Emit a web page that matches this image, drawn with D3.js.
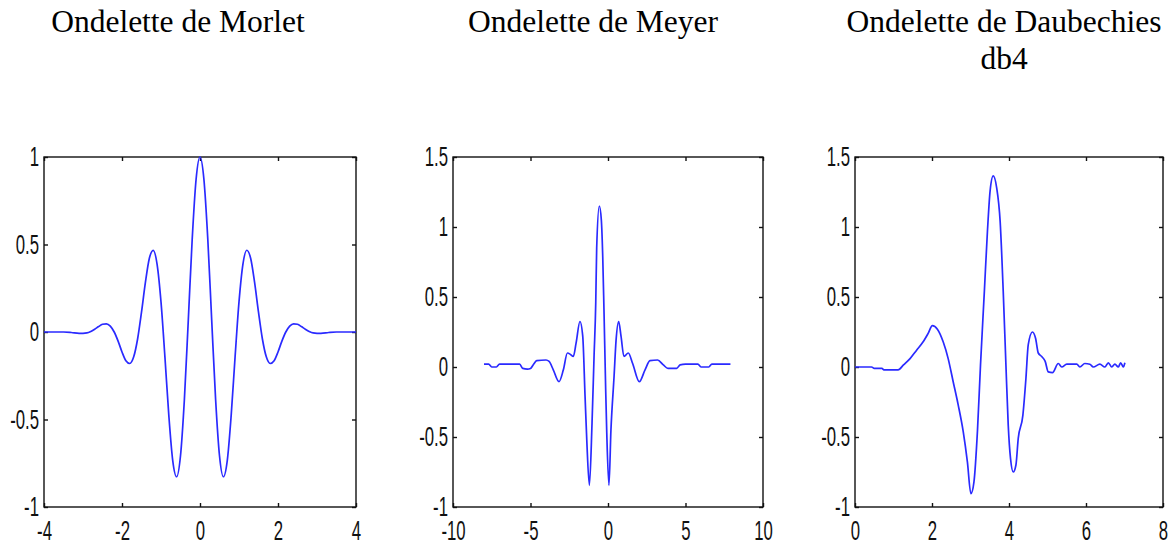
<!DOCTYPE html>
<html>
<head>
<meta charset="utf-8">
<script src="https://cdn.jsdelivr.net/npm/d3@7"></script>
<style>
  html, body { margin: 0; padding: 0; background: #fff; }
  svg { display: block; }
</style>
</head>
<body>
<svg id="chart" width="1174" height="545"></svg>
<script>
// ---------------- DATA ----------------
const titles = [["Ondelette de Morlet"], ["Ondelette de Meyer"], ["Ondelette de Daubechies", "db4"]];

const morletX = [-4, -3.5, -3.3, -3.1, -2.9, -2.8, -2.7, -2.6, -2.5, -2.4, -2.3, -2.2, -2.1, -2.0, -1.9, -1.8, -1.7, -1.6, -1.5, -1.4, -1.3, -1.2, -1.1, -1.0, -0.9, -0.8, -0.7, -0.6, -0.5, -0.4, -0.3, -0.2, -0.1, 0,
                 0.1, 0.2, 0.3, 0.4, 0.5, 0.6, 0.7, 0.8, 0.9, 1.0, 1.1, 1.2, 1.3, 1.4, 1.5, 1.6, 1.7, 1.8, 1.9, 2.0, 2.1, 2.2, 2.3, 2.4, 2.5, 2.6, 2.7, 2.8, 2.9, 3.1, 3.3, 3.5, 4];
const morletY = [0, 0, -0.003, -0.008, -0.005, 0.003, 0.016, 0.031, 0.044, 0.047, 0.034, 0.0, -0.052, -0.114, -0.164, -0.18, -0.142, -0.04, 0.113, 0.283, 0.42, 0.467, 0.387, 0.172, -0.141, -0.475, -0.733, -0.827, -0.707, -0.384, 0.068, 0.53, 0.873, 1.0,
                 0.873, 0.53, 0.068, -0.384, -0.707, -0.827, -0.733, -0.475, -0.141, 0.172, 0.387, 0.467, 0.42, 0.283, 0.113, -0.04, -0.142, -0.18, -0.164, -0.114, -0.052, 0.0, 0.034, 0.047, 0.044, 0.031, 0.016, 0.003, -0.005, -0.008, -0.003, 0, 0];

const meyerX = [-8.0, -7.7, -7.5, -7.2, -7.0, -6.0, -5.7, -5.5, -5.2, -5.0, -4.8, -4.6, -4.0, -3.8, -3.53, -3.16, -2.88, -2.62, -2.42, -2.24, -2.06, -1.81, -1.63, -1.48, -1.37, -1.2, -1.03, -0.9, -0.79, -0.73, -0.56, -0.43, -0.34, -0.26, -0.15, -0.08, 0.06, 0.19, 0.39, 0.52, 0.69, 0.84, 1.03, 1.31, 1.59, 2.02, 2.39, 2.71, 3.2, 3.57, 3.87, 4.43, 4.65, 5.0, 5.8, 6.0, 6.5, 6.7, 7.9];
const meyerY = [0.02, 0.02, 0.0, 0.0, 0.02, 0.02, 0.02, -0.01, -0.015, -0.01, 0.02, 0.045, 0.05, 0.04, -0.02, -0.105, -0.02, 0.10, 0.09, 0.075, 0.17, 0.325, 0.22, -0.21, -0.52, -0.845, -0.40, 0.075, 0.46, 0.85, 1.15, 1.05, 0.79, 0.41, -0.16, -0.47, -0.845, -0.45, -0.07, 0.19, 0.325, 0.22, 0.075, 0.10, 0.025, -0.105, -0.02, 0.045, 0.05, 0.015, -0.01, -0.01, 0.015, 0.02, 0.02, 0.0, 0.0, 0.02, 0.02];

const db4X = [0, 0.43, 0.5, 0.7, 0.75, 1.12, 1.26, 1.43, 1.6, 1.77, 1.9, 2.01, 2.14, 2.29, 2.42, 2.55, 2.68, 2.81, 2.92, 3.01, 3.09, 3.18, 3.26, 3.36, 3.44, 3.51, 3.59, 3.68, 3.77, 3.85, 3.92, 3.98, 4.04, 4.11, 4.18, 4.24, 4.36, 4.44, 4.5, 4.61, 4.69, 4.76, 4.85, 4.94, 5.02, 5.13, 5.28, 5.37, 5.5, 5.76, 5.84, 5.97, 6.1, 6.19, 6.36, 6.49, 6.58, 6.67, 6.75, 6.84, 6.9, 6.97, 7.01];
const db4Y = [0, 0, -0.01, -0.01, -0.02, -0.02, 0.015, 0.06, 0.12, 0.18, 0.24, 0.295, 0.27, 0.18, 0.06, -0.105, -0.27, -0.46, -0.68, -0.905, -0.82, -0.46, 0.015, 0.54, 0.97, 1.26, 1.365, 1.28, 1.04, 0.54, 0.015, -0.415, -0.655, -0.75, -0.70, -0.51, -0.345, -0.08, 0.16, 0.25, 0.205, 0.10, 0.075, 0.04, -0.035, -0.04, 0.025, 0.0, 0.02, 0.02, 0.0, 0.025, 0.02, 0.0, 0.02, 0.0, 0.03, 0.0, 0.02, 0.0, 0.03, 0.0, 0.03];

const morletXTicks = [-4, -2, 0, 2, 4];
const morletYTicks = [-1, -0.5, 0, 0.5, 1];
const meyerXTicks = [-10, -5, 0, 5, 10];
const meyerYTicks = [-1, -0.5, 0, 0.5, 1, 1.5];
const db4XTicks = [0, 2, 4, 6, 8];
const db4YTicks = [-1, -0.5, 0, 0.5, 1, 1.5];

// ---------------- LAYOUT ----------------
const panels = [
  { xs: morletX, ys: morletY, xd: [-4, 4], yd: [-1, 1], xt: morletXTicks, yt: morletYTicks, left: 44, right: 356, titleX: 178 },
  { xs: meyerX, ys: meyerY, xd: [-10, 10], yd: [-1, 1.5], xt: meyerXTicks, yt: meyerYTicks, left: 453, right: 763, titleX: 593 },
  { xs: db4X, ys: db4Y, xd: [0, 8], yd: [-1, 1.5], xt: db4XTicks, yt: db4YTicks, left: 855, right: 1163, titleX: 1004 }
];
const plotTop = 157, plotBottom = 507;
const labelScaleX = 0.62;   // condensed tick-label look
const leftPad = 5, bottomPad = 14;

const svg = d3.select("#chart");
const tickFont = "'Liberation Sans', Arial, sans-serif";

panels.forEach((p, i) => {
  const t = svg.append("text")
    .attr("x", p.titleX).attr("y", 32)
    .attr("text-anchor", "middle")
    .style("font-family", "'Liberation Serif', 'Times New Roman', serif")
    .style("font-size", "31.5px")
    .style("fill", "#000");
  titles[i].forEach((line, k) => {
    t.append("tspan").attr("x", p.titleX).attr("dy", k === 0 ? 0 : 36.5).text(line);
  });

  const x = d3.scaleLinear().domain(p.xd).range([p.left, p.right]);
  const y = d3.scaleLinear().domain(p.yd).range([plotBottom, plotTop]);
  const fmt = d => String(d);

  const g = svg.append("g");

  g.append("rect")
    .attr("x", p.left).attr("y", plotTop)
    .attr("width", p.right - p.left).attr("height", plotBottom - plotTop)
    .attr("fill", "none").attr("stroke", "#111").attr("stroke-width", 1.4);

  const styleAxis = sel => {
    sel.select(".domain").remove();
    sel.selectAll(".tick line").attr("stroke", "#111").attr("stroke-width", 1.4);
    sel.selectAll(".tick text")
      .style("font-family", tickFont)
      .style("font-size", "27px")
      .attr("fill", "#111");
  };

  g.append("g").attr("transform", `translate(0,${plotBottom})`)
    .call(d3.axisBottom(x).tickValues(p.xt).tickFormat(fmt).tickSizeInner(-4).tickSizeOuter(0).tickPadding(bottomPad))
    .call(styleAxis)
    .call(s => s.selectAll(".tick text").attr("transform", `scale(${labelScaleX},1)`));
  g.append("g").attr("transform", `translate(0,${plotTop})`)
    .call(d3.axisTop(x).tickValues(p.xt).tickFormat("").tickSizeInner(-4).tickSizeOuter(0))
    .call(styleAxis);
  g.append("g").attr("transform", `translate(${p.left},0)`)
    .call(d3.axisLeft(y).tickValues(p.yt).tickFormat(fmt).tickSizeInner(-4).tickSizeOuter(0).tickPadding(leftPad))
    .call(styleAxis)
    .call(s => s.selectAll(".tick text")
      .attr("x", -leftPad / labelScaleX)
      .attr("transform", `scale(${labelScaleX},1)`));
  g.append("g").attr("transform", `translate(${p.right},0)`)
    .call(d3.axisRight(y).tickValues(p.yt).tickFormat("").tickSizeInner(-4).tickSizeOuter(0))
    .call(styleAxis);

  const pts = p.xs.map((v, k) => [v, p.ys[k]]);
  const line = d3.line().x(d => x(d[0])).y(d => y(d[1])).curve(d3.curveMonotoneX);
  g.append("path").datum(pts)
    .attr("d", line)
    .attr("fill", "none")
    .attr("stroke", "#2a2aff")
    .attr("stroke-width", 1.7)
    .attr("stroke-linejoin", "round");
});
</script>
</body>
</html>
